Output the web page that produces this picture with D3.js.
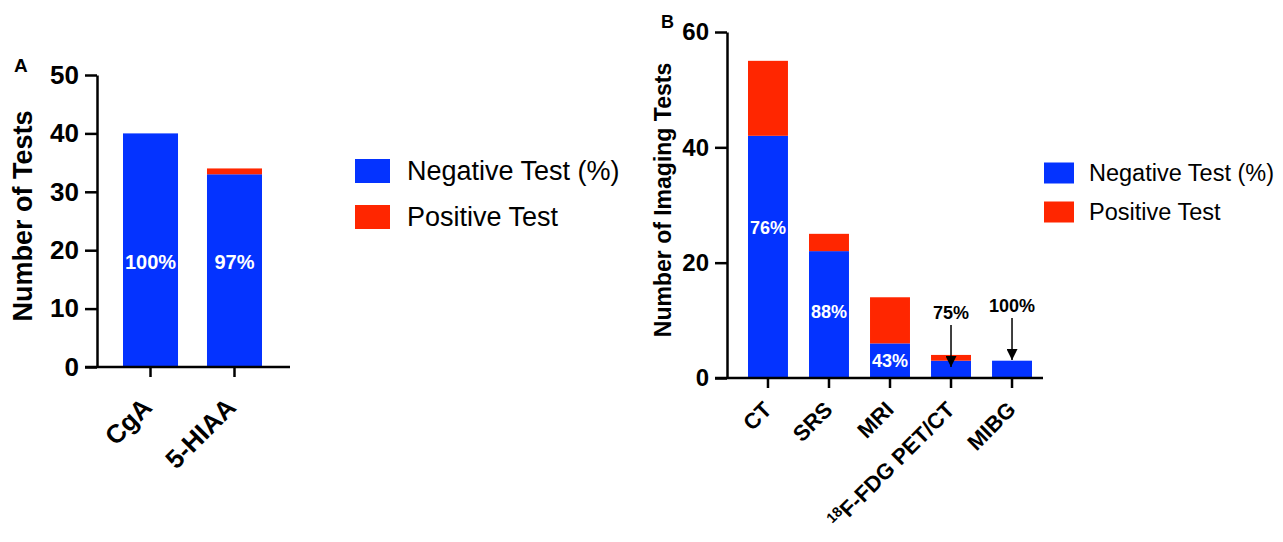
<!DOCTYPE html>
<html>
<head>
<meta charset="utf-8">
<style>
  body { margin: 0; background: #fff; }
  svg { font-family: "Liberation Sans", Arial, sans-serif; }
  .axis path, .axis line { stroke: #000; stroke-width: 2.5; }
  .axis text { font-weight: bold; fill: #000; }
</style>
<script src="https://d3js.org/d3.v7.min.js"></script>
</head>
<body>
<svg width="1283" height="542"></svg>
<script>

// ---- data, panel A ----
var testsA = ["CgA", "5-HIAA"];
var negA = [40, 33];
var posA = [0, 1];
var pctA = ["100%", "97%"];
var pctAtA = [18, 18];   // value at which the % label sits

// ---- data, panel B ----
var testsB = ["CT", "SRS", "MRI", "18F-FDG PET/CT", "MIBG"];
var negB = [42, 22, 6, 3, 3];
var posB = [13, 3, 8, 1, 0];
var pctB = ["76%", "88%", "43%", "", ""];
var pctAtB = [26, 11.5, 3, 0, 0];
// annotated small bars (arrows)
var arrowTests = ["18F-FDG PET/CT", "MIBG"];
var arrowText = ["75%", "100%"];
var arrowFrom = [9.2, 10.4];
var arrowTo = [1.9, 3.1];

var legendLabels = ["Negative Test (%)", "Positive Test"];
var colors = ["#0433ff", "#ff2600"];

var svg = d3.select("svg");

svg.append("defs").append("marker")
  .attr("id", "head")
  .attr("viewBox", "0 0 10 10")
  .attr("refX", 10).attr("refY", 5)
  .attr("markerWidth", 11).attr("markerHeight", 11)
  .attr("markerUnits", "userSpaceOnUse")
  .attr("orient", "auto")
  .append("path").attr("d", "M0,0L10,5L0,10Z").attr("fill", "#000");

function panel(opt) {
  var y = d3.scaleLinear().domain([0, opt.ymax]).range([opt.y0, opt.y1]);
  var x = d3.scaleBand().domain(opt.cats).range(opt.xr).paddingInner(0.345).paddingOuter(0);

  var rows = opt.cats.map(function(c, i) {
    return {cat: c, neg: opt.neg[i], pos: opt.pos[i], pct: opt.pct[i], at: opt.pctAt[i]};
  });

  // bars
  svg.append("g").selectAll("rect.neg").data(rows).join("rect")
    .attr("x", function(d) { return x(d.cat); })
    .attr("width", x.bandwidth())
    .attr("y", function(d) { return y(d.neg); })
    .attr("height", function(d) { return y(0) - y(d.neg); })
    .attr("fill", colors[0]);
  svg.append("g").selectAll("rect.pos").data(rows.filter(function(d) { return d.pos > 0; })).join("rect")
    .attr("x", function(d) { return x(d.cat); })
    .attr("width", x.bandwidth())
    .attr("y", function(d) { return y(d.neg + d.pos); })
    .attr("height", function(d) { return y(d.neg) - y(d.neg + d.pos); })
    .attr("fill", colors[1]);

  // % labels
  svg.append("g").selectAll("text").data(rows.filter(function(d) { return d.pct; })).join("text")
    .attr("x", function(d) { return x(d.cat) + x.bandwidth() / 2; })
    .attr("y", function(d) { return y(d.at); })
    .attr("dy", "0.35em")
    .attr("text-anchor", "middle")
    .attr("fill", "#fff")
    .attr("font-weight", "bold")
    .attr("font-size", opt.pctSize)
    .text(function(d) { return d.pct; });

  // y axis
  var ya = svg.append("g").attr("class", "axis")
    .attr("transform", "translate(" + opt.xAxis0 + ",0)")
    .call(d3.axisLeft(y).ticks(opt.nTicks).tickSize(12).tickSizeOuter(0).tickPadding(6));
  ya.selectAll("text").attr("font-size", opt.tickSize).attr("font-family", "Liberation Sans, Arial, sans-serif");

  // x axis line + ticks
  svg.append("line")
    .attr("x1", opt.xAxis0 - 12).attr("x2", opt.xAxis1)
    .attr("y1", y(0)).attr("y2", y(0))
    .attr("stroke", "#000").attr("stroke-width", 2.5);
  svg.append("g").selectAll("line").data(opt.cats).join("line")
    .attr("x1", function(d) { return x(d) + x.bandwidth() / 2; })
    .attr("x2", function(d) { return x(d) + x.bandwidth() / 2; })
    .attr("y1", y(0)).attr("y2", y(0) + 10)
    .attr("stroke", "#000").attr("stroke-width", 2.5);

  // x labels
  var xl = svg.append("g").selectAll("text").data(opt.cats).join("text")
    .attr("transform", function(d) {
      return "translate(" + (x(d) + x.bandwidth() / 2 + opt.lblDx) + "," + (y(0) + opt.lblDy) + ") rotate(-45)";
    })
    .attr("text-anchor", "end")
    .attr("font-weight", "bold")
    .attr("font-size", opt.xSize);
  xl.each(function(d) {
    var t = d3.select(this);
    if (d.indexOf("18F") === 0) {
      t.append("tspan").attr("font-size", opt.xSize * 0.65).attr("dy", -opt.xSize * 0.35).text("18");
      t.append("tspan").attr("dy", opt.xSize * 0.35).text(d.slice(2));
    } else {
      t.text(d);
    }
  });

  // y title
  svg.append("text")
    .attr("transform", "translate(" + opt.titleX + "," + opt.titleY + ") rotate(-90)")
    .attr("text-anchor", "middle")
    .attr("font-weight", "bold")
    .attr("font-size", opt.titleSize)
    .text(opt.title);

  // panel letter
  svg.append("text")
    .attr("x", opt.letterX).attr("y", opt.letterY)
    .attr("font-weight", "bold").attr("font-size", opt.letterSize)
    .text(opt.letter);

  // legend
  var lg = svg.append("g").selectAll("g").data(legendLabels).join("g")
    .attr("transform", function(d, i) { return "translate(" + opt.legX + "," + (opt.legY + i * opt.legGap) + ")"; });
  lg.append("rect")
    .attr("x", 0).attr("y", -opt.swH / 2)
    .attr("width", opt.swW).attr("height", opt.swH)
    .attr("fill", function(d, i) { return colors[i]; });
  lg.append("text")
    .attr("x", opt.swW + opt.legPad).attr("y", 0).attr("dy", "0.35em")
    .attr("font-size", opt.legSize)
    .text(function(d) { return d; });

  return {x: x, y: y};
}

panel({
  cats: testsA, neg: negA, pos: posA, pct: pctA, pctAt: pctAtA,
  ymax: 50, nTicks: 5, y0: 367, y1: 75, xr: [123, 262], xAxis0: 97, xAxis1: 290,
  pctSize: 20, tickSize: 26, xSize: 26, lblDx: 3, lblDy: 42,
  title: "Number of Tests", titleX: 32, titleY: 216, titleSize: 27,
  letter: "A", letterX: 14, letterY: 72, letterSize: 19,
  legX: 355, legY: 171, legGap: 46, swW: 35, swH: 24, legPad: 17, legSize: 27
});

var pB = panel({
  cats: testsB, neg: negB, pos: posB, pct: pctB, pctAt: pctAtB,
  ymax: 60, nTicks: 3, y0: 378, y1: 32, xr: [748, 1032], xAxis0: 727, xAxis1: 1043,
  pctSize: 18, tickSize: 24, xSize: 22, lblDx: 5, lblDy: 33,
  title: "Number of Imaging Tests", titleX: 671, titleY: 200, titleSize: 23,
  letter: "B", letterX: 661, letterY: 28, letterSize: 18,
  legX: 1044, legY: 173, legGap: 39, swW: 30, swH: 21, legPad: 15, legSize: 23.5
});

// arrows over the small bars
var ann = svg.append("g").selectAll("g").data(arrowTests).join("g");
ann.append("line")
  .attr("x1", function(d) { return pB.x(d) + pB.x.bandwidth() / 2; })
  .attr("x2", function(d) { return pB.x(d) + pB.x.bandwidth() / 2; })
  .attr("y1", function(d, i) { return pB.y(arrowFrom[i]); })
  .attr("y2", function(d, i) { return pB.y(arrowTo[i]); })
  .attr("stroke", "#000").attr("stroke-width", 1.5)
  .attr("marker-end", "url(#head)");
ann.append("text")
  .attr("x", function(d) { return pB.x(d) + pB.x.bandwidth() / 2; })
  .attr("y", function(d, i) { return pB.y(arrowFrom[i]) - 6; })
  .attr("text-anchor", "middle")
  .attr("font-weight", "bold").attr("font-size", 18)
  .text(function(d, i) { return arrowText[i]; });

</script>
</body>
</html>
